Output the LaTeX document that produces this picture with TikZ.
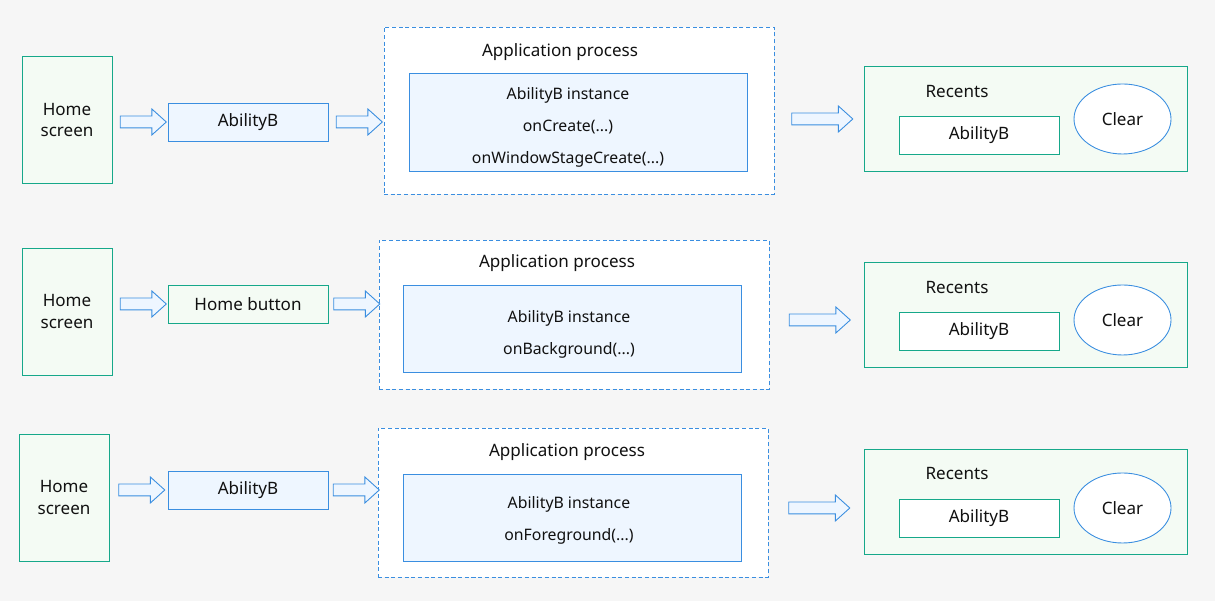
\documentclass[tikz,border=0pt]{standalone}
\usepackage{fontspec}
\setmainfont{Noto Sans}
\usetikzlibrary{shapes}

\definecolor{bgcol}{HTML}{F6F6F6}
\definecolor{tealline}{HTML}{16A88A}
\definecolor{greenfill}{HTML}{F4FBF4}
\definecolor{blueline}{HTML}{3A8EE0}
\definecolor{bluefill}{HTML}{EEF6FF}
\definecolor{txt}{HTML}{111111}

\begin{document}
\begin{tikzpicture} [line width=0.5pt, text=txt, font=\fontsize{9.7}{12.5}\selectfont,
  screen/.style={draw=tealline, fill=greenfill, minimum width=1.8cm, minimum height=2.54cm, align=center},
  ability/.style={draw=blueline, fill=bluefill, minimum width=3.2cm, minimum height=0.76cm},
  homebtn/.style={draw=tealline, fill=greenfill, minimum width=3.2cm, minimum height=0.76cm},
  process/.style={draw=blueline, fill=white, dash pattern=on 2.3pt off 1.5pt, minimum width=7.8cm},
  instance/.style={draw=blueline, fill=bluefill, minimum width=6.76cm},
  calls/.style={align=center, font=\fontsize{9}{18.2}\selectfont},
  recents/.style={draw=tealline, fill=greenfill, minimum width=6.46cm, minimum height=2.1cm},
  recitem/.style={draw=tealline, fill=white, minimum width=3.2cm, minimum height=0.76cm},
  clearbtn/.style={ellipse, draw=blueline, fill=white, minimum width=1.94cm, minimum height=1.4cm},
  bigarrow/.style={single arrow, draw=blueline, fill=bluefill, inner sep=0.11cm,
    single arrow head extend=0.14cm, single arrow tip angle=84, minimum height=0.92cm},
  longarrow/.style={bigarrow, minimum height=1.22cm}]

  \fill[bgcol] (0,0) rectangle (24.3,12.02);

  \draw (1.34,9.62) node[screen] (home1) {Home\\screen};
  \draw (4.96,9.58) node[ability] (ab1) {AbilityB};
  \draw (11.58,9.81) node[process, minimum height=3.34cm] (app1) {};
  \draw (11.2,10.98) node (title1) {Application process};
  \draw (11.56,9.58) node[instance, minimum height=1.96cm] (inst1) {};
  \draw (11.36,9.48) node[calls] (calls1) {AbilityB instance\\onCreate(...)\\onWindowStageCreate(...)};
  \draw (20.51,9.65) node[recents] (rec1) {};
  \draw (19.14,10.18) node (rtitle1) {Recents};
  \draw (19.58,9.32) node[recitem] (rab1) {AbilityB};
  \draw (22.45,9.64) node[clearbtn] (clr1) {Clear};

  \draw (1.34,5.79) node[screen] (home2) {Home\\screen};
  \draw (4.96,5.94) node[homebtn] (hb2) {Home button};
  \draw (11.48,5.73) node[process, minimum height=2.98cm] (app2) {};
  \draw (11.14,6.76) node (title2) {Application process};
  \draw (11.45,5.45) node[instance, minimum height=1.74cm] (inst2) {};
  \draw (11.38,5.34) node[calls] (calls2) {AbilityB instance\\onBackground(...)};
  \draw (20.51,5.73) node[recents] (rec2) {};
  \draw (19.14,6.26) node (rtitle2) {Recents};
  \draw (19.58,5.4) node[recitem] (rab2) {AbilityB};
  \draw (22.45,5.62) node[clearbtn] (clr2) {Clear};

  \draw (1.28,2.07) node[screen] (home3) {Home\\screen};
  \draw (4.96,2.22) node[ability] (ab3) {AbilityB};
  \draw (11.46,1.97) node[process, minimum height=2.98cm] (app3) {};
  \draw (11.34,2.98) node (title3) {Application process};
  \draw (11.44,1.67) node[instance, minimum height=1.74cm] (inst3) {};
  \draw (11.38,1.61) node[calls] (calls3) {AbilityB instance\\onForeground(...)};
  \draw (20.51,1.99) node[recents] (rec3) {};
  \draw (19.14,2.54) node (rtitle3) {Recents};
  \draw (19.58,1.66) node[recitem] (rab3) {AbilityB};
  \draw (22.45,1.86) node[clearbtn] (clr3) {Clear};

  \path (home1.east |- ab1) -- node[bigarrow] {} (ab1.west)
        (ab1.east) -- node[bigarrow] {} (app1.west |- ab1)
        (app1.east |- clr1) -- node[longarrow] {} (rec1.west |- clr1);
  \path (home2.east |- hb2) -- node[bigarrow] {} (hb2.west)
        (hb2.east) -- node[bigarrow] {} (app2.west |- hb2)
        (app2.east |- clr2) -- node[longarrow] {} (rec2.west |- clr2);
  \path (home3.east |- ab3) -- node[bigarrow] {} (ab3.west)
        (ab3.east) -- node[bigarrow] {} (app3.west |- ab3)
        (app3.east |- clr3) -- node[longarrow] {} (rec3.west |- clr3);
\end{tikzpicture}
\end{document}
